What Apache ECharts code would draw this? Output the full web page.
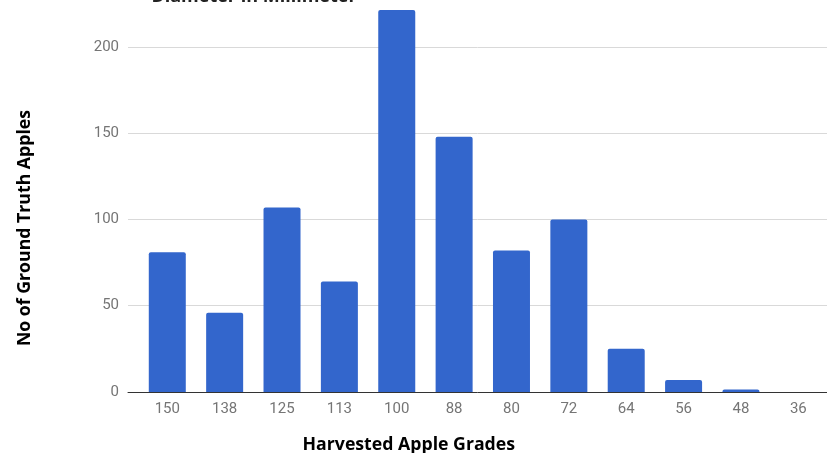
<!DOCTYPE html>
<html>
<head>
<meta charset="utf-8">
<script src="https://cdn.jsdelivr.net/npm/echarts@6/dist/echarts.min.js"></script>
<style>
  html, body { margin: 0; padding: 0; background: #fff; }
  #chart { width: 827px; height: 453px; }
</style>
</head>
<body>
<div id="chart"></div>
<script>
// Apple grades (diameter in mm) and count of ground-truth apples per grade
const grades = ['150', '138', '125', '113', '100', '88', '80', '72', '64', '56', '48', '36'];
const appleCounts = [81, 46, 107, 64, 222, 148, 82, 100, 25, 7, 1.5, 0];
const yTicks = [0, 50, 100, 150, 200];

const yMax = 221.4;
const labelFont = { color: '#757575', fontSize: 15, fontFamily: 'Roboto' };

const chart = echarts.init(document.getElementById('chart'), null, { renderer: 'canvas' });

chart.setOption({
  animation: false,
  graphic: [{
    type: 'text',
    x: 254,
    y: 6,
    silent: true,
    style: {
      text: 'Diameter in Millimeter',
      textAlign: 'center',
      textVerticalAlign: 'bottom',
      fill: '#222',
      font: 'bold 18px "Open Sans"'
    }
  }],
  grid: [
    // frame grid: gridlines, y labels and baseline
    { left: 128, right: 0, top: 10, bottom: 61, outerBoundsMode: 'none', containLabel: false },
    // bar grid: categories laid out across the plotted band
    { left: 138.6, right: 0, top: 10, bottom: 61, outerBoundsMode: 'none', containLabel: false }
  ],
  xAxis: [
    {
      gridIndex: 0, type: 'category', data: [''],
      axisLine: { lineStyle: { color: '#333', width: 1 } },
      axisTick: { show: false }, axisLabel: { show: false },
      splitLine: { show: false }
    },
    {
      gridIndex: 1, type: 'category', data: grades,
      axisLine: { show: false }, axisTick: { show: false },
      splitLine: { show: false },
      axisLabel: Object.assign({ margin: 10 }, labelFont),
      name: 'Harvested Apple Grades',
      nameLocation: 'middle',
      nameGap: 44,
      nameTextStyle: { color: '#000', fontSize: 17.7, fontWeight: 'bold', fontFamily: 'Open Sans', padding: [0, 148, 0, 0] }
    }
  ],
  yAxis: [
    {
      gridIndex: 0, type: 'value', min: 0, max: yMax, interval: 50,
      axisLine: { show: false }, axisTick: { show: false },
      axisLabel: Object.assign({
        margin: 9,
        formatter: v => (yTicks.indexOf(v) >= 0 ? String(v) : '')
      }, labelFont),
      splitLine: { showMaxLine: false, lineStyle: { color: '#d9d9d9', width: 1 } },
      name: 'No of Ground Truth Apples',
      nameLocation: 'middle',
      nameGap: 94,
      nameRotate: 90,
      nameTextStyle: { color: '#000', fontSize: 17.7, fontWeight: 'bold', fontFamily: 'Open Sans', padding: [0, 54, 0, 0] }
    },
    {
      gridIndex: 1, type: 'value', min: 0, max: yMax, interval: 50,
      show: false, splitLine: { show: false }
    }
  ],
  series: [{
    type: 'bar',
    xAxisIndex: 1, yAxisIndex: 1,
    data: appleCounts,
    barCategoryGap: '35.5%',
    clip: true,
    itemStyle: { color: '#3366cc', borderRadius: [2, 2, 0, 0] }
  }]
});
</script>
</body>
</html>
